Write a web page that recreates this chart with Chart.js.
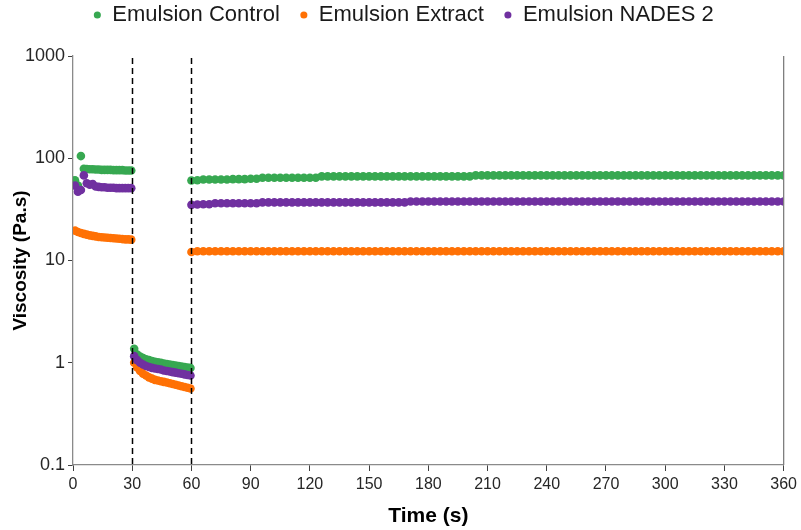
<!DOCTYPE html>
<html>
<head>
<meta charset="utf-8">
<title>Viscosity vs time</title>
<script src="https://cdn.jsdelivr.net/npm/chart.js@4.4.1/dist/chart.umd.min.js"></script>
<style>
  html, body { margin: 0; padding: 0; background: #ffffff; }
  canvas { display: block; }
</style>
</head>
<body>
<canvas id="chartViscosity" width="801" height="530"></canvas>
<script>
// time points (s) for the three intervals of the test
const timeLow1 = [1, 2.5, 4, 5.5, 7, 8.5, 10, 11.5, 13, 14.5, 16, 17.5, 19, 20.5, 22, 23.5, 25, 26.5, 28, 29.5];
const timeHigh = [31, 32.5, 34, 35.5, 37, 38.5, 40, 41.5, 43, 44.5, 46, 47.5, 49, 50.5, 52, 53.5, 55, 56.5, 58, 59.5];
const timeLow2 = [60, 63, 66, 69, 72, 75, 78, 81, 84, 87, 90, 93, 96, 99, 102, 105, 108, 111, 114, 117,
  120, 123, 126, 129, 132, 135, 138, 141, 144, 147, 150, 153, 156, 159, 162, 165, 168, 171, 174, 177,
  180, 183, 186, 189, 192, 195, 198, 201, 204, 207, 210, 213, 216, 219, 222, 225, 228, 231, 234, 237,
  240, 243, 246, 249, 252, 255, 258, 261, 264, 267, 270, 273, 276, 279, 282, 285, 288, 291, 294, 297,
  300, 303, 306, 309, 312, 315, 318, 321, 324, 327, 330, 333, 336, 339, 342, 345, 348, 351, 354, 357, 360];

// Emulsion Control (Pa.s)
const controlLow1 = [61, 54, 105, 79, 78.5, 78, 78, 77.5, 77.5, 77, 77, 77, 77, 76.5, 76.5, 76.5, 76.5, 76, 76, 76];
const controlHigh = [1.37, 1.2, 1.15, 1.11, 1.08, 1.06, 1.04, 1.02, 1.01, 1.0, 0.98, 0.97, 0.96, 0.95, 0.94, 0.93, 0.92, 0.91, 0.9, 0.89];
const controlLow2 = [60.5, 61, 62, 62, 62, 62, 62, 62.5, 62.5, 62.5, 63, 63,
  64.5, 64.5, 64.5, 64.5, 64.5, 64.5, 64.5, 64.5, 64.5, 64.5,
  66.5, 66.5, 66.5, 66.5, 66.5, 66.5, 66.5, 66.5, 66.5, 66.5, 66.5, 66.5, 66.5,
  66.5, 66.5, 66.5, 66.5, 66.5, 66.5, 66.5, 66.5, 66.5, 66.5, 66.5, 66.5, 66.5,
  68, 68, 68, 68, 68, 68, 68, 68, 68, 68, 68, 68, 68, 68, 68, 68, 68, 68, 68, 68,
  68, 68, 68, 68, 68, 68, 68, 68, 68, 68, 68, 68, 68, 68, 68, 68, 68, 68, 68, 68,
  68, 68, 68, 68, 68, 68, 68, 68, 68, 68, 68, 68, 68];

// Emulsion Extract (Pa.s)
const extractLow1 = [19.6, 19.0, 18.6, 18.2, 17.9, 17.6, 17.4, 17.2, 17.0, 16.9, 16.8, 16.7, 16.6, 16.5, 16.4, 16.3, 16.2, 16.1, 16.1, 16.0];
const extractHigh = [1.0, 0.9, 0.83, 0.78, 0.75, 0.72, 0.7, 0.68, 0.67, 0.66, 0.65, 0.64, 0.63, 0.62, 0.61, 0.6, 0.59, 0.58, 0.57, 0.56];
const extractLow2 = [12.1, 12.3, 12.3, 12.3, 12.3, 12.3, 12.3, 12.3, 12.3, 12.3, 12.3, 12.3, 12.3, 12.3, 12.3, 12.3, 12.3, 12.3, 12.3, 12.3,
  12.3, 12.3, 12.3, 12.3, 12.3, 12.3, 12.3, 12.3, 12.3, 12.3, 12.3, 12.3, 12.3, 12.3, 12.3, 12.3, 12.3, 12.3, 12.3, 12.3,
  12.3, 12.3, 12.3, 12.3, 12.3, 12.3, 12.3, 12.3, 12.3, 12.3, 12.3, 12.3, 12.3, 12.3, 12.3, 12.3, 12.3, 12.3, 12.3, 12.3,
  12.3, 12.3, 12.3, 12.3, 12.3, 12.3, 12.3, 12.3, 12.3, 12.3, 12.3, 12.3, 12.3, 12.3, 12.3, 12.3, 12.3, 12.3, 12.3, 12.3,
  12.3, 12.3, 12.3, 12.3, 12.3, 12.3, 12.3, 12.3, 12.3, 12.3, 12.3, 12.3, 12.3, 12.3, 12.3, 12.3, 12.3, 12.3, 12.3, 12.3, 12.3];

// Emulsion NADES 2 (Pa.s)
const nadesLow1 = [54, 47, 49, 68, 57, 55, 56, 53, 52.5, 52, 52, 51.5, 51.5, 51.5, 51, 51, 51, 51, 51, 51];
const nadesHigh = [1.16, 1.06, 1.0, 0.96, 0.93, 0.91, 0.89, 0.88, 0.87, 0.86, 0.84, 0.83, 0.82, 0.81, 0.8, 0.79, 0.78, 0.77, 0.76, 0.75];
const nadesLow2 = [35, 35.3, 35.5, 35.5,
  36.3, 36.3, 36.3, 36.3, 36.3, 36.3, 36.3, 36.3,
  37, 37, 37, 37, 37, 37, 37, 37, 37, 37, 37, 37, 37, 37, 37, 37, 37, 37, 37, 37, 37, 37, 37, 37, 37,
  37.8, 37.8, 37.8, 37.8, 37.8, 37.8, 37.8, 37.8, 37.8, 37.8, 37.8, 37.8, 37.8, 37.8, 37.8, 37.8,
  37.8, 37.8, 37.8, 37.8, 37.8, 37.8, 37.8, 37.8, 37.8, 37.8, 37.8, 37.8, 37.8, 37.8, 37.8, 37.8,
  37.8, 37.8, 37.8, 37.8, 37.8, 37.8, 37.8, 37.8, 37.8, 37.8, 37.8, 37.8, 37.8, 37.8, 37.8, 37.8,
  37.8, 37.8, 37.8, 37.8, 37.8, 37.8, 37.8, 37.8, 37.8, 37.8, 37.8, 37.8, 37.8, 37.8, 37.8, 37.8];

const seriesNames = ['Emulsion Control', 'Emulsion Extract', 'Emulsion NADES 2'];
const seriesColors = ['#37a851', '#ff7105', '#7030a0'];
const yTickValues = [0.1, 1, 10, 100, 1000];
const intervalLimits = [30, 60];

// joins the three intervals of one sample into {x, y} points
function buildPoints(low1, high, low2) {
  const pts = [];
  timeLow1.forEach((t, i) => pts.push({ x: t, y: low1[i] }));
  timeHigh.forEach((t, i) => pts.push({ x: t, y: high[i] }));
  timeLow2.forEach((t, i) => pts.push({ x: t, y: low2[i] }));
  return pts;
}

const seriesData = [
  buildPoints(controlLow1, controlHigh, controlLow2),
  buildPoints(extractLow1, extractHigh, extractLow2),
  buildPoints(nadesLow1, nadesHigh, nadesLow2)
];

// vertical dashed lines at the interval changes + right frame line
const intervalLines = {
  id: 'intervalLines',
  afterDatasetsDraw(chart) {
    const { ctx, chartArea } = chart;
    const xScale = chart.scales.x;
    ctx.save();
    ctx.strokeStyle = '#000000';
    ctx.lineWidth = 1.5;
    ctx.setLineDash([6, 4]);
    intervalLimits.forEach(t => {
      const px = Math.round(xScale.getPixelForValue(t)) + 0.5;
      ctx.beginPath();
      ctx.moveTo(px, chartArea.top + 2);
      ctx.lineTo(px, chartArea.bottom);
      ctx.stroke();
    });
    ctx.setLineDash([]);
    ctx.strokeStyle = '#7f7f7f';
    ctx.lineWidth = 1.3;
    ctx.beginPath();
    ctx.moveTo(chartArea.right, chartArea.top);
    ctx.lineTo(chartArea.right, chartArea.bottom);
    ctx.stroke();
    ctx.restore();
  }
};

// fixed legend height so the plot starts where it does in the original,
// and the legend row pulled up near the top edge
const legendPlacement = {
  id: 'legendPlacement',
  beforeInit(chart) {
    if (!chart.legend) return;
    const originalFit = chart.legend.fit;
    chart.legend.fit = function () {
      originalFit.bind(chart.legend)();
      this.height = 56;
    };
  },
  afterLayout(chart) {
    if (!chart.legend) return;
    chart.legend.top -= 16;
    chart.legend.left += 10;
    chart.legend.right += 10;
  }
};

const ctx = document.getElementById('chartViscosity');
const tickColor = '#262626';

new Chart(ctx, {
  type: 'scatter',
  data: {
    datasets: seriesNames.map((name, i) => ({
      label: name,
      data: seriesData[i],
      showLine: false,
      pointRadius: 4.3,
      pointHoverRadius: 4.3,
      pointBorderWidth: 0,
      backgroundColor: seriesColors[i],
      borderColor: seriesColors[i],
      order: 3 - i // later series drawn on top, like in the original
    }))
  },
  options: {
    responsive: false,
    devicePixelRatio: 1,
    animation: false,
    layout: { padding: { left: 0, right: 14, top: 0, bottom: 0 } },
    scales: {
      x: {
        type: 'linear',
        min: 0,
        max: 360,
        ticks: {
          stepSize: 30,
          maxRotation: 0,
          color: tickColor,
          padding: 4,
          font: { family: "'Liberation Sans Narrow', 'Liberation Sans', Arial, sans-serif", size: 16 }
        },
        grid: { drawOnChartArea: false, drawTicks: true, tickLength: 6, color: '#404040' },
        border: { display: true, color: '#8a8a8a', width: 1.3 },
        title: {
          display: true,
          text: 'Time (s)',
          color: '#000000',
          font: { family: "'Liberation Sans Narrow', 'Liberation Sans', Arial, sans-serif", size: 21, weight: 'bold' },
          padding: { top: 2, bottom: 1 }
        },
        afterFit(scale) { scale.height = 65; }
      },
      y: {
        type: 'logarithmic',
        min: 0.1,
        max: 1000,
        afterBuildTicks(scale) {
          scale.ticks = yTickValues.map(v => ({ value: v }));
        },
        ticks: {
          color: tickColor,
          padding: 3,
          font: { family: "'Liberation Sans', Arial, sans-serif", size: 18 },
          callback: v => String(v)
        },
        grid: { drawOnChartArea: false, drawTicks: true, tickLength: 5, color: '#404040' },
        border: { display: true, color: '#8a8a8a', width: 1.3 },
        title: {
          display: true,
          text: 'Viscosity (Pa.s)',
          color: '#000000',
          font: { family: "'Liberation Sans', Arial, sans-serif", size: 19, weight: 'bold' },
          padding: { top: 9, bottom: 0 }
        },
        afterFit(scale) { scale.width = 73; }
      }
    },
    plugins: {
      legend: {
        display: true,
        position: 'top',
        labels: {
          usePointStyle: true,
          pointStyle: 'circle',
          boxWidth: 8,
          boxHeight: 5,
          padding: 20,
          color: '#1a1a1a',
          font: { family: "'Liberation Sans', Arial, sans-serif", size: 22 },
          sort: (a, b) => a.datasetIndex - b.datasetIndex
        }
      },
      tooltip: { enabled: false }
    }
  },
  plugins: [intervalLines, legendPlacement]
});
</script>
</body>
</html>
